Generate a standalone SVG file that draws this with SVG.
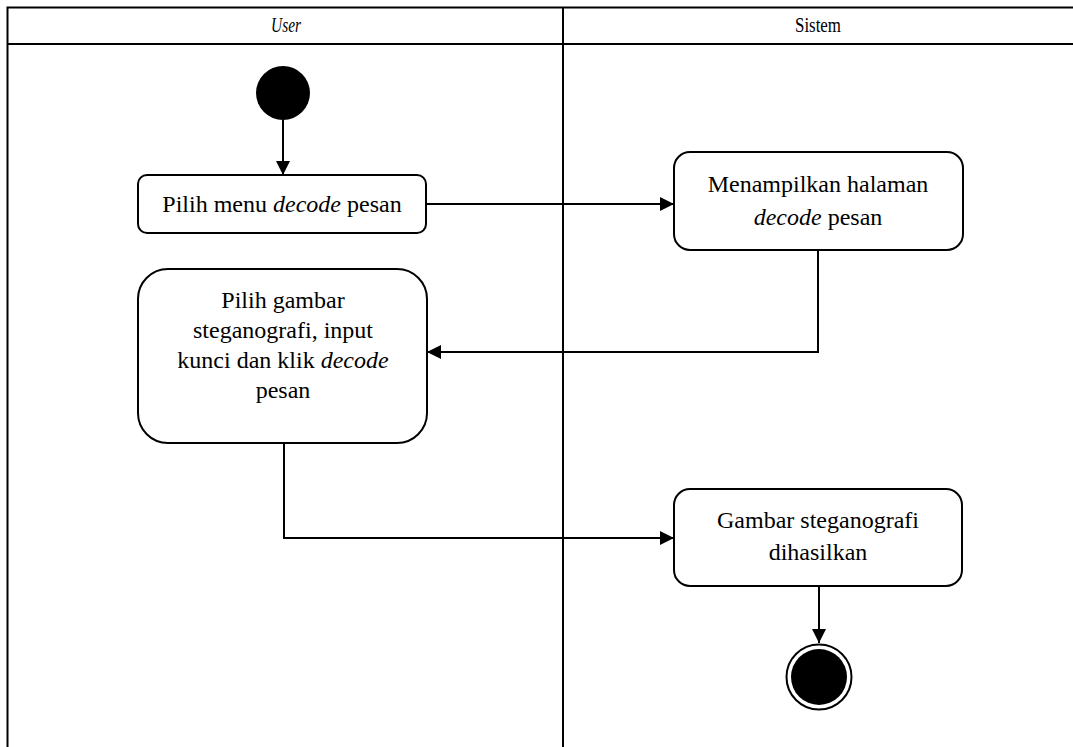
<svg xmlns="http://www.w3.org/2000/svg" width="1073" height="747" viewBox="0 0 1073 747">
  <style>
    .lane { fill: none; stroke: #000; stroke-width: 2; }
    .act { fill: #fff; stroke: #000; stroke-width: 2; }
    .flow { fill: none; stroke: #000; stroke-width: 2; }
    text { font-family: "Liberation Serif", "Times New Roman", serif; font-size: 24px; fill: #000; text-anchor: middle; }
    .head { font-size: 21px; }
    .it { font-style: italic; }
  </style>
  <defs>
    <marker id="arrow" viewBox="0 0 14 14" refX="14" refY="7" markerWidth="14" markerHeight="14" markerUnits="userSpaceOnUse" orient="auto">
      <path d="M0,0 L14,7 L0,14 Z" fill="#000"/>
    </marker>
  </defs>

  <rect width="1073" height="747" fill="#fff"/>

  <!-- swimlane frame -->
  <g id="lanes">
    <path class="lane" d="M7.5,747 V7.5 H1073"/>
    <path class="lane" d="M7.5,44 H1073"/>
    <path class="lane" d="M563,7.5 V747"/>
    <text x="286" y="32" class="head it" textLength="30" lengthAdjust="spacingAndGlyphs">User</text>
    <text x="818" y="32" class="head" textLength="46" lengthAdjust="spacingAndGlyphs">Sistem</text>
  </g>

  <!-- connectors -->
  <g id="connectors">
    <path class="flow" d="M283,120 V175" marker-end="url(#arrow)"/>
    <path class="flow" d="M427,204 H674" marker-end="url(#arrow)"/>
    <path class="flow" d="M818,250 V352 H427" marker-end="url(#arrow)"/>
    <path class="flow" d="M284,443 V538 H674" marker-end="url(#arrow)"/>
    <path class="flow" d="M819,586 V643" marker-end="url(#arrow)"/>
  </g>

  <g id="start">
    <circle cx="283" cy="93" r="27" fill="#000"/>
  </g>

  <g id="pilih-menu">
    <rect class="act" x="138" y="175" width="288" height="58" rx="9"/>
    <text x="282" y="212">Pilih menu <tspan class="it">decode</tspan> pesan</text>
  </g>

  <g id="tampil-halaman">
    <rect class="act" x="674" y="152" width="289" height="98" rx="16"/>
    <text x="818" y="192">Menampilkan halaman</text>
    <text x="818" y="225"><tspan class="it">decode</tspan> pesan</text>
  </g>

  <g id="pilih-gambar">
    <rect class="act" x="138" y="269" width="289" height="174" rx="30"/>
    <text x="283" y="308">Pilih gambar</text>
    <text x="283" y="338">steganografi, input</text>
    <text x="283" y="368">kunci dan klik <tspan class="it">decode</tspan></text>
    <text x="283" y="398">pesan</text>
  </g>

  <g id="gambar-hasil">
    <rect class="act" x="674" y="489" width="288" height="97" rx="16"/>
    <text x="818" y="528">Gambar steganografi</text>
    <text x="818" y="560">dihasilkan</text>
  </g>

  <g id="end">
    <circle cx="819" cy="677" r="32.5" fill="#fff" stroke="#000" stroke-width="2"/>
    <circle cx="819" cy="677" r="28" fill="#000"/>
  </g>
</svg>
